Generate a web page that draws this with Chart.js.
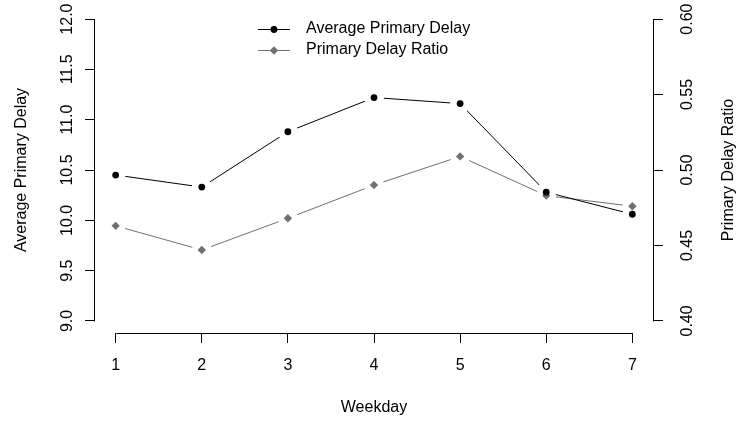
<!DOCTYPE html>
<html>
<head>
<meta charset="utf-8">
<title>Primary Delay by Weekday</title>
<script src="https://cdn.jsdelivr.net/npm/chart.js@4.4.1/dist/chart.umd.min.js"></script>
<style>
    html, body { margin: 0; padding: 0; background: #fff; }
    canvas { display: block; }
</style>
</head>
<body>
<canvas id="delay-chart" width="737" height="423"></canvas>
<script>
    "use strict";

    // Data
    var weekdays = [1, 2, 3, 4, 5, 6, 7];
    var avgDelay = [10.45, 10.33, 10.88, 11.22, 11.16, 10.28, 10.06];
    var delayRatio = [0.463, 0.447, 0.468, 0.490, 0.509, 0.483, 0.476];
    var delayTicks = [9.0, 9.5, 10.0, 10.5, 11.0, 11.5, 12.0];
    var ratioTicks = [0.40, 0.45, 0.50, 0.55, 0.60];

    var grayCol = "#707070";
    var fontFamily = "'Liberation Sans', Arial, sans-serif";

    Chart.defaults.color = "#000";
    Chart.defaults.font.family = fontFamily;
    Chart.defaults.font.size = 16;

    function toPoints(values) {
        return weekdays.map(function (d, i) {
            return { x: d, y: values[i] };
        });
    }

    // base R pads the axis range by 4% on each side
    function padded(vals) {
        var lo = vals[0], hi = vals[vals.length - 1];
        var pad = (hi - lo) * 0.04;
        return { min: lo - pad, max: hi + pad };
    }

    function fixedTicks(list) {
        return function (scale) {
            scale.ticks = list.map(function (v) { return { value: v }; });
        };
    }

    // leave a gap in the line round each point, like type = "b"
    var lineGaps = {
        id: "lineGaps",
        beforeDatasetDraw: function (chart, args) {
            var ds = chart.data.datasets[args.index];
            if (!ds.gap) return;
            var c = chart.ctx, w = chart.width, h = chart.height;
            c.save();
            c.beginPath();
            c.moveTo(0, 0);
            c.lineTo(w, 0);
            c.lineTo(w, h);
            c.lineTo(0, h);
            c.closePath();
            args.meta.data.forEach(function (pt) {
                c.moveTo(pt.x + ds.gap, pt.y);
                c.arc(pt.x, pt.y, ds.gap, 0, Math.PI * 2, true);
                c.closePath();
            });
            c.clip();
        },
        afterDatasetDraw: function (chart, args) {
            if (chart.data.datasets[args.index].gap) chart.ctx.restore();
        },
    };

    // axis lines (only from first to last tick), titles and legend
    var baseAxes = {
        id: "baseAxes",
        afterDraw: function (chart) {
            var c = chart.ctx, s = chart.scales, a = chart.chartArea;
            c.save();
            c.strokeStyle = "#000";
            c.lineWidth = 1;
            c.beginPath();
            var lx = Math.round(a.left) - 0.5;
            c.moveTo(lx, Math.round(s.y.getPixelForValue(delayTicks[0])) + 0.5);
            c.lineTo(lx, Math.round(s.y.getPixelForValue(delayTicks[delayTicks.length - 1])) + 0.5);
            var rx = Math.round(a.right) + 0.5;
            c.moveTo(rx, Math.round(s.y1.getPixelForValue(ratioTicks[0])) + 0.5);
            c.lineTo(rx, Math.round(s.y1.getPixelForValue(ratioTicks[ratioTicks.length - 1])) + 0.5);
            var by = Math.round(a.bottom) + 0.5;
            c.moveTo(Math.round(s.x.getPixelForValue(weekdays[0])) + 0.5, by);
            c.lineTo(Math.round(s.x.getPixelForValue(weekdays[weekdays.length - 1])) + 0.5, by);
            c.stroke();

            // titles
            c.fillStyle = "#000";
            c.font = "16px " + fontFamily;
            c.textAlign = "center";
            c.textBaseline = "middle";
            var midY = (a.top + a.bottom) / 2;
            c.fillText("Weekday", (a.left + a.right) / 2, 408);
            c.save();
            c.translate(22, midY);
            c.rotate(-Math.PI / 2);
            c.fillText("Average Primary Delay", 0, 0);
            c.restore();
            c.save();
            c.translate(729, midY);
            c.rotate(-Math.PI / 2);
            c.fillText("Primary Delay Ratio", 0, 0);
            c.restore();

            // legend, no box
            c.textAlign = "left";
            var rowY = 28.5;
            chart.data.datasets.forEach(function (ds) {
                if (ds.gap) return;
                c.strokeStyle = ds.pointBackgroundColor;
                c.beginPath();
                c.moveTo(258, Math.round(rowY) + 0.5);
                c.lineTo(290, Math.round(rowY) + 0.5);
                c.stroke();
                c.fillStyle = ds.pointBackgroundColor;
                Chart.helpers.drawPoint(c, {
                    pointStyle: ds.pointStyle,
                    radius: ds.pointRadius,
                    borderWidth: 0,
                    rotation: 0,
                }, 274, Math.round(rowY) + 0.5);
                c.fillStyle = "#000";
                c.fillText(ds.label, 306, rowY);
                rowY += 21.5;
            });
            c.restore();
        },
    };

    var ctx = document.getElementById("delay-chart").getContext("2d");
    var delayChart = new Chart(ctx, {
        type: "line",
        data: {
            datasets: [
                {
                    label: "Average Primary Delay",
                    data: toPoints(avgDelay),
                    yAxisID: "y",
                    showLine: false,
                    pointStyle: "circle",
                    pointRadius: 3.4,
                    pointBorderWidth: 0,
                    pointBackgroundColor: "#000",
                    order: 0,
                },
                {
                    label: "Primary Delay Ratio",
                    data: toPoints(delayRatio),
                    yAxisID: "y1",
                    showLine: false,
                    pointStyle: "rectRot",
                    pointRadius: 4.2,
                    pointBorderWidth: 0,
                    pointBackgroundColor: grayCol,
                    order: 0,
                },
                {
                    data: toPoints(avgDelay),
                    yAxisID: "y",
                    borderColor: "#000",
                    borderWidth: 1,
                    pointRadius: 0,
                    tension: 0,
                    gap: 10,
                    order: 1,
                },
                {
                    data: toPoints(delayRatio),
                    yAxisID: "y1",
                    borderColor: grayCol,
                    borderWidth: 1,
                    pointRadius: 0,
                    tension: 0,
                    gap: 10,
                    order: 1,
                },
            ],
        },
        options: {
            responsive: false,
            animation: false,
            devicePixelRatio: 1,
            layout: { padding: { top: 7, left: 0, right: 0, bottom: 0 } },
            scales: {
                x: {
                    type: "linear",
                    position: "bottom",
                    min: padded(weekdays).min,
                    max: padded(weekdays).max,
                    afterBuildTicks: fixedTicks(weekdays),
                    afterFit: function (scale) { scale.height = 90; },
                    grid: { drawOnChartArea: false, tickLength: 10, color: "#000" },
                    border: { display: false },
                    ticks: { padding: 13, autoSkip: false, maxRotation: 0 },
                },
                y: {
                    type: "linear",
                    position: "left",
                    min: padded(delayTicks).min,
                    max: padded(delayTicks).max,
                    afterBuildTicks: fixedTicks(delayTicks),
                    afterFit: function (scale) {
                        scale.width = 95;
                        scale.paddingTop = 0;
                        scale.paddingBottom = 0;
                    },
                    grid: { drawOnChartArea: false, tickLength: 10, color: "#000" },
                    border: { display: false },
                    ticks: {
                        padding: 2,
                        autoSkip: false,
                        minRotation: 90,
                        maxRotation: 90,
                        crossAlign: "center",
                        callback: function (v) { return v.toFixed(1); },
                    },
                },
                y1: {
                    type: "linear",
                    position: "right",
                    min: padded(ratioTicks).min,
                    max: padded(ratioTicks).max,
                    afterBuildTicks: fixedTicks(ratioTicks),
                    afterFit: function (scale) {
                        scale.width = 84;
                        scale.paddingTop = 0;
                        scale.paddingBottom = 0;
                    },
                    grid: { drawOnChartArea: false, tickLength: 10, color: "#000" },
                    border: { display: false },
                    ticks: {
                        padding: 9,
                        autoSkip: false,
                        minRotation: 90,
                        maxRotation: 90,
                        crossAlign: "center",
                        callback: function (v) { return v.toFixed(2); },
                    },
                },
            },
            plugins: {
                legend: { display: false },
                tooltip: { enabled: false },
            },
        },
        plugins: [lineGaps, baseAxes],
    });
</script>
</body>
</html>
